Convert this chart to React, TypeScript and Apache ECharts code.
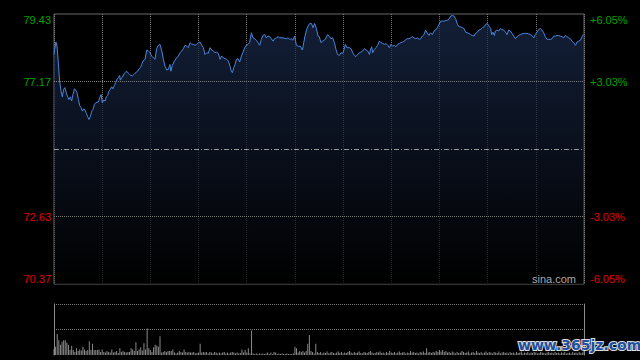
import React, { useEffect, useRef } from "react";
import * as echarts from "echarts";

const PREV_CLOSE = 74.9;
const PRICE_MIN = 70.37;
const PRICE_MAX = 79.43;
const SESSION_MINUTES = 330;
const leftTickLabels = ["70.37", "72.63", "", "77.17", "79.43"];
const rightTickLabels = ["-6.05%", "-3.03%", "", "+3.03%", "+6.05%"];
const gridPrices = [72.63, 77.17];
const volumeGridValues = [50, 100];

// [trading minute, price]
const intraday: [number, number][] = [
  [0, 78.07], [0.4, 78.24], [1.2, 78.49], [1.9, 78.35], [2.7, 77.79], [3.5, 77.18], [4.4, 76.84], [5.2, 76.65], [6.0, 76.9], [6.8, 76.96],
  [7.7, 76.77], [8.5, 76.65], [9.3, 76.56], [10.2, 76.65], [11.0, 76.51], [11.8, 76.73], [12.7, 76.92], [13.5, 76.88], [14.3, 76.79], [15.2, 76.56],
  [16.0, 76.36], [16.8, 76.29], [17.7, 76.17], [18.5, 76.25], [19.3, 76.21], [20.2, 76.09], [21.0, 75.98], [21.8, 75.89], [22.7, 76.0], [23.5, 76.17],
  [24.3, 76.23], [25.2, 76.4], [26.0, 76.45], [26.8, 76.47], [27.6, 76.47], [28.5, 76.62], [29.3, 76.73], [30.1, 76.45], [30.9, 76.54], [31.8, 76.51],
  [32.6, 76.65], [33.4, 76.7], [34.2, 76.84], [35.1, 76.9], [35.9, 76.99], [36.7, 76.92], [37.6, 77.03], [38.4, 77.14], [39.2, 77.24], [40.1, 77.29],
  [40.9, 77.37], [41.3, 77.21], [42.2, 77.29], [43.0, 77.35], [43.8, 77.44], [44.6, 77.48], [45.5, 77.5], [46.3, 77.44], [47.1, 77.4], [47.9, 77.37],
  [48.8, 77.35], [49.6, 77.39], [50.4, 77.44], [51.3, 77.48], [52.1, 77.51], [52.9, 77.59], [53.8, 77.63], [54.6, 77.74], [55.4, 77.85], [56.7, 77.91],
  [57.7, 78.22], [58.8, 78.19], [59.8, 78.13], [60.8, 78.02], [61.9, 77.96], [62.9, 77.91], [63.9, 78.27], [65.0, 78.38], [66.0, 78.41], [67.1, 78.19],
  [68.1, 77.91], [69.1, 77.68], [70.2, 77.55], [71.2, 77.57], [72.2, 77.74], [72.8, 77.51], [73.7, 77.71], [75.0, 77.85], [76.4, 77.96], [77.5, 78.02],
  [78.5, 78.13], [79.5, 78.19], [80.6, 78.27], [81.6, 78.38], [82.6, 78.35], [83.7, 78.3], [84.7, 78.47], [85.7, 78.42], [86.8, 78.41], [87.8, 78.38],
  [88.8, 78.41], [89.9, 78.47], [90.9, 78.49], [92.0, 78.38], [93.0, 78.3], [94.0, 78.07], [95.1, 78.13], [96.1, 78.11], [97.1, 78.3], [98.2, 78.22],
  [99.2, 78.19], [100.2, 78.13], [101.3, 78.15], [102.3, 78.11], [103.4, 77.91], [104.4, 78.02], [105.4, 77.96], [106.5, 77.93], [107.5, 77.91], [108.6, 77.85],
  [109.6, 77.68], [110.4, 77.51], [111.1, 77.46], [111.9, 77.63], [112.7, 77.74], [113.6, 77.91], [114.6, 77.93], [115.6, 77.82], [116.7, 78.02], [117.7, 78.15],
  [118.7, 78.3], [119.8, 78.38], [120.8, 78.41], [121.8, 78.47], [122.9, 78.8], [123.9, 78.63], [125.0, 78.6], [126.0, 78.55], [127.0, 78.47], [128.1, 78.38],
  [129.1, 78.58], [130.1, 78.71], [131.2, 78.74], [132.2, 78.63], [133.2, 78.69], [134.3, 78.67], [135.3, 78.6], [136.4, 78.52], [137.4, 78.6], [138.5, 78.63],
  [139.5, 78.67], [140.5, 78.63], [142.6, 78.63], [144.7, 78.6], [145.7, 78.63], [146.8, 78.58], [147.8, 78.6], [148.8, 78.55], [149.9, 78.69], [150.9, 78.38],
  [151.9, 78.35], [153.4, 78.35], [154.7, 78.22], [155.5, 78.47], [156.3, 78.69], [157.2, 78.89], [158.1, 79.02], [159.2, 79.11], [160.3, 79.11], [161.3, 78.97],
  [162.3, 79.11], [163.4, 78.94], [164.4, 78.69], [165.2, 78.67], [166.2, 78.47], [167.3, 78.52], [168.4, 78.55], [169.4, 78.63], [170.4, 78.74], [171.5, 78.67],
  [172.5, 78.6], [173.5, 78.63], [174.6, 78.47], [175.6, 78.24], [176.6, 78.07], [177.7, 78.04], [178.7, 78.13], [179.8, 78.11], [180.8, 78.27], [181.4, 78.41],
  [182.4, 78.3], [183.9, 78.3], [184.9, 78.27], [186.0, 78.13], [187.0, 78.04], [188.0, 78.0], [189.1, 78.07], [190.1, 78.13], [191.1, 78.15], [192.2, 78.19],
  [193.3, 78.27], [194.3, 78.22], [195.3, 78.19], [196.4, 78.07], [197.0, 78.22], [197.8, 78.33], [198.4, 78.13], [199.5, 78.24], [200.5, 78.3], [201.5, 78.38],
  [202.6, 78.52], [203.6, 78.47], [204.7, 78.44], [205.7, 78.41], [206.7, 78.44], [207.8, 78.38], [208.8, 78.3], [209.8, 78.41], [210.9, 78.35], [211.9, 78.38],
  [212.9, 78.33], [214.0, 78.41], [215.0, 78.44], [216.0, 78.47], [217.1, 78.49], [218.2, 78.52], [219.2, 78.58], [220.0, 78.6], [221.0, 78.6], [222.1, 78.63],
  [223.1, 78.67], [224.1, 78.63], [225.2, 78.6], [226.3, 78.63], [227.3, 78.58], [228.3, 78.6], [229.4, 78.69], [230.4, 78.74], [231.4, 78.89], [232.5, 78.78],
  [233.5, 78.71], [234.5, 78.8], [235.6, 78.74], [236.6, 78.86], [237.6, 78.89], [238.7, 78.97], [239.7, 79.08], [240.8, 79.19], [241.8, 79.19], [242.8, 79.19],
  [243.9, 79.21], [244.9, 79.22], [245.9, 79.25], [247.0, 79.36], [248.1, 79.38], [249.1, 79.36], [250.1, 79.27], [251.2, 79.08], [252.2, 79.0], [253.2, 79.0],
  [254.3, 78.97], [255.3, 78.94], [256.3, 78.82], [257.4, 78.8], [258.4, 78.78], [259.4, 78.74], [260.5, 78.71], [261.5, 78.69], [262.5, 78.78], [263.6, 78.82],
  [264.6, 78.89], [265.7, 78.91], [266.7, 78.97], [267.8, 79.0], [268.8, 79.08], [269.8, 79.11], [270.9, 79.02], [271.9, 78.94], [272.5, 78.74], [273.3, 78.82],
  [274.2, 78.71], [274.8, 78.86], [275.8, 78.89], [276.9, 78.86], [277.9, 78.94], [278.9, 78.91], [280.0, 78.89], [281.1, 78.82], [282.1, 78.74], [283.1, 78.89],
  [284.2, 78.86], [285.2, 78.78], [286.2, 78.69], [287.3, 78.6], [288.3, 78.67], [289.3, 78.71], [290.4, 78.74], [291.4, 78.76], [292.4, 78.78], [293.5, 78.78],
  [294.5, 78.78], [295.6, 78.76], [296.6, 78.74], [297.6, 78.71], [298.7, 78.63], [299.7, 78.74], [300.7, 78.82], [301.8, 78.91], [302.8, 78.94], [303.8, 78.89],
  [304.9, 78.8], [305.9, 78.67], [307.0, 78.58], [308.0, 78.58], [309.1, 78.58], [310.1, 78.6], [311.1, 78.69], [312.2, 78.69], [313.2, 78.71], [314.2, 78.71],
  [315.3, 78.69], [316.3, 78.67], [317.4, 78.63], [318.4, 78.71], [319.4, 78.67], [320.5, 78.63], [321.5, 78.6], [322.5, 78.52], [323.6, 78.47], [324.7, 78.38],
  [325.7, 78.49], [326.7, 78.52], [327.8, 78.55], [328.8, 78.67], [329.5, 78.74],
];

// volume per trading minute (index = minute)
const volumes: number[] = [
  12, 16, 41, 29, 20, 26, 29, 29, 24, 20,
  10, 18, 10, 6, 13, 8, 11, 9, 16, 11,
  8, 10, 27, 10, 22, 10, 10, 10, 11, 6,
  11, 6, 5, 8, 6, 5, 11, 5, 6, 8,
  4, 13, 6, 8, 6, 5, 6, 6, 13, 11,
  8, 25, 8, 11, 15, 9, 23, 11, 52, 13,
  10, 6, 15, 20, 18, 16, 37, 5, 6, 8,
  6, 8, 8, 8, 11, 5, 3, 5, 8, 6,
  5, 11, 6, 5, 6, 5, 5, 6, 3, 4,
  5, 22, 5, 6, 5, 6, 3, 6, 5, 3,
  6, 5, 3, 5, 3, 5, 6, 3, 5, 3,
  5, 6, 5, 3, 5, 3, 4, 11, 5, 10,
  5, 13, 3, 48, 3, 2, 3, 2, 3, 2,
  3, 2, 3, 5, 2, 5, 2, 6, 5, 2,
  3, 2, 3, 2, 2, 3, 2, 2, 2, 3,
  16, 13, 5, 8, 6, 8, 5, 8, 22, 39,
  8, 6, 3, 22, 6, 4, 6, 3, 5, 4,
  7, 3, 5, 6, 4, 3, 5, 7, 4, 6,
  3, 5, 4, 6, 8, 5, 3, 6, 4, 5,
  7, 4, 3, 6, 5, 4, 6, 8, 5, 3,
  4, 6, 5, 7, 4, 5, 3, 6, 4, 8,
  5, 4, 6, 3, 5, 7, 4, 5, 6, 3,
  5, 4, 8, 5, 6, 4, 5, 3, 6, 5,
  7, 4, 13, 5, 6, 4, 6, 5, 8, 6,
  10, 7, 10, 6, 8, 5, 6, 4, 7, 5,
  3, 6, 4, 5, 8, 6, 4, 5, 7, 3,
  5, 6, 4, 8, 5, 4, 6, 3, 5, 7,
  4, 6, 5, 3, 6, 5, 4, 7, 3, 5,
  6, 4, 5, 3, 6, 4, 5, 3, 6, 4,
  5, 7, 3, 5, 4, 6, 3, 5, 4, 6,
  5, 3, 4, 6, 5, 4, 3, 5, 6, 4,
  5, 3, 6, 4, 5, 3, 5, 4, 6, 3,
  4, 5, 3, 6, 4, 5, 3, 6, 4, 5,
  8,
];

const FONT = "'Liberation Sans', Arial, Helvetica, sans-serif";
const GREEN = "#00a300";
const RED = "#e00000";
const GRID_COLOR = "#7a7a7a";

export default function App() {
  const ref = useRef<HTMLDivElement>(null);

  useEffect(() => {
    document.body.style.margin = "0";
    document.body.style.background = "#000";
    const chart = echarts.init(ref.current!, null, { renderer: "svg" });
    const step = (PRICE_MAX - PRICE_MIN) / 4;
    const tickIndex = (v: number) => Math.round((v - PRICE_MIN) / step);
    const labelColor = (v: any) => (Number(v) > PREV_CLOSE + 0.01 ? GREEN : RED);

    const priceYAxisBase = {
      type: "value",
      gridIndex: 0,
      min: PRICE_MIN,
      max: PRICE_MAX,
      interval: step,
      axisLine: { show: false },
      axisTick: { show: false },
      splitLine: { show: false },
    };

    chart.setOption({
      animation: false,
      backgroundColor: "#000",
      grid: [
        { left: 54, top: 14, width: 530, height: 270, show: true, borderColor: "#686868", borderWidth: 1, backgroundColor: "transparent" },
        { left: 54, top: 304, width: 530, height: 51 },
      ],
      xAxis: [
        {
          type: "value",
          gridIndex: 0,
          min: 0,
          max: SESSION_MINUTES,
          interval: 30,
          axisLine: { show: false },
          axisTick: { show: false },
          axisLabel: { show: false },
          splitLine: { show: true, lineStyle: { color: GRID_COLOR, type: "dotted", width: 1 } },
        },
        {
          type: "value",
          gridIndex: 1,
          min: 0,
          max: SESSION_MINUTES,
          axisLine: { show: false },
          axisTick: { show: false },
          axisLabel: { show: false },
          splitLine: { show: false },
        },
      ],
      yAxis: [
        {
          ...priceYAxisBase,
          position: "left",
          axisLabel: {
            formatter: (v: number) => leftTickLabels[tickIndex(v)] ?? "",
            color: labelColor,
            fontSize: 11,
            fontFamily: FONT,
            margin: 3,
            verticalAlignMinLabel: "bottom",
            verticalAlignMaxLabel: "top",
          },
        },
        {
          ...priceYAxisBase,
          position: "right",
          axisLabel: {
            formatter: (v: number) => rightTickLabels[tickIndex(v)] ?? "",
            color: labelColor,
            fontSize: 11,
            fontFamily: FONT,
            margin: 6,
            verticalAlignMinLabel: "bottom",
            verticalAlignMaxLabel: "top",
          },
        },
        {
          type: "value",
          gridIndex: 1,
          position: "left",
          min: 0,
          max: 100,
          interval: 50,
          axisLine: { show: true, lineStyle: { color: "#8c8c8c", width: 1 } },
          axisTick: { show: false },
          axisLabel: { show: false },
          splitLine: { show: false },
        },
        {
          type: "value",
          gridIndex: 1,
          position: "right",
          min: 0,
          max: 100,
          interval: 50,
          axisLine: { show: true, lineStyle: { color: "#8c8c8c", width: 1 } },
          axisTick: { show: false },
          axisLabel: { show: false },
          splitLine: { show: false },
        },
      ],
      series: [
        {
          type: "line",
          xAxisIndex: 0,
          yAxisIndex: 0,
          data: intraday,
          showSymbol: false,
          symbol: "none",
          smooth: false,
          lineStyle: { color: "#4a86dc", width: 1 },
          areaStyle: {
            origin: "start",
            color: new echarts.graphic.LinearGradient(0, 0, 0, 1, [
              { offset: 0, color: "#1b2c4f" },
              { offset: 1, color: "#000000" },
            ]),
          },
          markLine: {
            silent: true,
            symbol: "none",
            label: { show: false },
            data: [
              ...gridPrices.map((p) => ({ yAxis: p, lineStyle: { color: GRID_COLOR, type: "dotted", width: 1 } })),
              { yAxis: PREV_CLOSE, lineStyle: { color: "#9a9a9a", type: [5, 2, 1, 2], width: 1 } },
            ],
          },
          z: 3,
        },
        {
          type: "bar",
          xAxisIndex: 1,
          yAxisIndex: 2,
          data: volumes.map((v, i) => [i, v]),
          barWidth: 1,
          itemStyle: { color: "#8a8a8a" },
          markLine: {
            silent: true,
            symbol: "none",
            label: { show: false },
            data: volumeGridValues.map((v) => ({ yAxis: v, lineStyle: { color: GRID_COLOR, type: "dotted", width: 1 } })),
          },
        },
      ],
      graphic: [
        {
          type: "text",
          left: 532,
          top: 273,
          silent: true,
          style: { text: "sina.com", fill: "#a8a8a8", fontSize: 11, fontFamily: FONT },
          z: 10,
        },
        {
          type: "text",
          left: 517,
          top: 337,
          silent: true,
          style: {
            text: "www.365jz.com",
            fill: "#1f4f9e",
            stroke: "#dcdcdc",
            lineWidth: 2,
            fontSize: 14,
            fontWeight: "bold",
            fontFamily: "'DejaVu Sans', sans-serif",
          },
          z: 20,
        },
      ],
    });

    return () => chart.dispose();
  }, []);

  return (
    <div
      ref={ref}
      style={{ position: "fixed", left: 0, top: 0, width: 640, height: 360, background: "#000" }}
    />
  );
}
